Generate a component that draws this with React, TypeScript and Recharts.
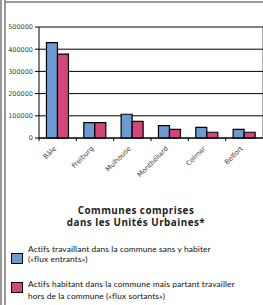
import React from 'react';
import { BarChart, Bar, XAxis, YAxis, CartesianGrid } from 'recharts';

const categories = ['Bâle', 'Freiburg', 'Mulhouse', 'Montbéliard', 'Colmar', 'Belfort'];
const fluxEntrants = [430000, 69000, 107000, 56000, 48000, 39000];
const fluxSortants = [378000, 69000, 75000, 39000, 26000, 26000];
const yTicks = [0, 100000, 200000, 300000, 400000, 500000];
const titleLines = ['Communes comprises', 'dans les Unités Urbaines*'];
const legendEntrants = ['Actifs travaillant dans la commune sans y habiter', '(«flux entrants»)'];
const legendSortants = ['Actifs habitant dans la commune mais partant travailler', 'hors de la commune («flux sortants»)'];

const BLUE = '#6c9bd2';
const PINK = '#d4457a';

const data = categories.map((c, i) => ({ name: c, entrants: fluxEntrants[i], sortants: fluxSortants[i] }));

const XTick = (props: any) => {
  const { x, y, payload, width, visibleTicksCount } = props;
  let off = 0;
  if (width && visibleTicksCount) off = width / visibleTicksCount / 2;
  else if (payload && typeof payload.offset === 'number') off = payload.offset;
  return (
    <g>
      <line x1={x - off} x2={x - off} y1={y} y2={y + 3} stroke="#000" strokeWidth={1} />
      <text
        x={x - 1}
        y={y + 11}
        textAnchor="end"
        transform={`rotate(-45 ${x - 1} ${y + 11})`}
        fontSize={6.8}
        fontFamily="DejaVu Sans"
        fill="#444"
      >
        {payload.value}
      </text>
    </g>
  );
};

const legendText: React.CSSProperties = {
  position: 'absolute',
  left: 28,
  fontFamily: 'Lato',
  fontSize: 8.4,
  letterSpacing: 0.1,
  color: '#111',
  whiteSpace: 'nowrap',
  lineHeight: '9.5px',
};

export default function App() {
  return (
    <div style={{ position: 'absolute', left: 0, top: 0, width: 263, height: 305, background: '#fff', overflow: 'hidden' }}>
      <div style={{ position: 'absolute', left: 0, top: 0, width: 1.5, height: 305, background: '#999' }} />
      <div style={{ position: 'absolute', left: 4, top: 0, width: 1.5, height: 305, background: '#999' }} />
      <div style={{ position: 'absolute', left: 4, top: 1, width: 259, height: 1.5, background: '#999' }} />
      <div style={{ position: 'absolute', left: 261.5, top: 27, width: 1.5, height: 111, background: '#aaa' }} />
      <div style={{ position: 'absolute', left: 0, top: 0 }}>
        <BarChart
          width={263}
          height={190}
          data={data}
          margin={{ top: 27, right: 0, left: 0, bottom: 0 }}
          barCategoryGap="20%"
          barGap={0}
        >
          <CartesianGrid vertical={false} stroke="#000" strokeWidth={1} />
          <XAxis
            dataKey="name"
            height={52}
            interval={0}
            tickSize={0}
            tickMargin={0}
            tickLine={false}
            axisLine={{ stroke: '#000', strokeWidth: 1 }}
            tick={<XTick />}
          />
          <YAxis
            width={39}
            domain={[0, 500000]}
            ticks={yTicks}
            interval={0}
            tickSize={4}
            tickMargin={2}
            tickLine={{ stroke: '#000' }}
            axisLine={{ stroke: '#000', strokeWidth: 1 }}
            tick={{ fontSize: 6.5, fontFamily: 'DejaVu Sans', fill: '#444' }}
          />
          <Bar dataKey="entrants" fill={BLUE} stroke="#000" strokeWidth={1.2} isAnimationActive={false} />
          <Bar dataKey="sortants" fill={PINK} stroke="#000" strokeWidth={1.2} isAnimationActive={false} />
        </BarChart>
      </div>
      <div
        style={{
          position: 'absolute',
          left: 0,
          width: 272,
          top: 205,
          textAlign: 'center',
          fontFamily: 'Open Sans',
          fontWeight: 700,
          fontSize: 9.8,
          letterSpacing: 0.5,
          lineHeight: '12px',
          color: '#222',
        }}
      >
        <div>{titleLines[0]}</div>
        <div>{titleLines[1]}</div>
      </div>
      <div style={{ position: 'absolute', left: 11, top: 253, width: 10, height: 9, background: BLUE, border: '1.3px solid #000' }} />
      <div style={{ ...legendText, top: 245 }}>{legendEntrants[0]}</div>
      <div style={{ ...legendText, top: 254.5 }}>{legendEntrants[1]}</div>
      <div style={{ position: 'absolute', left: 11, top: 281.5, width: 10, height: 9, background: PINK, border: '1.3px solid #000' }} />
      <div style={{ ...legendText, top: 279.5 }}>{legendSortants[0]}</div>
      <div style={{ ...legendText, top: 291.5 }}>{legendSortants[1]}</div>
    </div>
  );
}
